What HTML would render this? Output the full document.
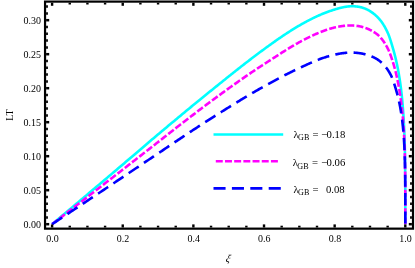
<!DOCTYPE html>
<html><head><meta charset="utf-8"><title>LT vs xi</title>
<style>
html,body{margin:0;padding:0;background:#fff;}
body{width:415px;height:268px;overflow:hidden;}
svg{display:block;will-change:transform;}
text{font-family:"Liberation Serif",serif;font-size:10px;fill:#000;}
.lg text{font-size:10.7px;}
.lg text.sub{font-size:8.1px;}
.xi{font-size:10.5px;font-style:italic;}
</style></head><body>
<svg width="415" height="268" viewBox="0 0 415 268">
<rect width="415" height="268" fill="#fff"/>
<g fill="none" stroke-linecap="butt" stroke-linejoin="round">
<path d="M52.10,224.20 L53.87,222.72 L55.63,221.24 L57.38,219.77 L59.13,218.30 L60.87,216.83 L62.61,215.37 L64.34,213.92 L66.06,212.47 L67.78,211.02 L69.50,209.58 L71.20,208.14 L72.90,206.71 L74.60,205.28 L76.29,203.85 L77.98,202.43 L79.65,201.02 L81.33,199.61 L82.99,198.20 L84.66,196.80 L86.31,195.40 L87.96,194.00 L89.61,192.61 L91.24,191.23 L92.88,189.85 L94.50,188.47 L96.13,187.10 L97.74,185.73 L99.35,184.37 L100.96,183.01 L102.55,181.65 L104.15,180.30 L105.74,178.96 L107.32,177.62 L108.89,176.28 L110.47,174.95 L112.03,173.62 L113.59,172.29 L115.15,170.97 L116.69,169.66 L118.24,168.35 L119.78,167.04 L121.31,165.74 L122.84,164.44 L124.36,163.14 L125.87,161.85 L127.38,160.57 L128.89,159.28 L130.39,158.00 L131.88,156.72 L133.37,155.45 L134.85,154.18 L136.33,152.92 L137.80,151.66 L139.27,150.40 L140.73,149.15 L142.19,147.91 L143.64,146.67 L145.09,145.43 L146.53,144.20 L147.96,142.98 L149.39,141.76 L150.81,140.55 L152.23,139.34 L153.65,138.14 L155.06,136.95 L156.46,135.77 L157.86,134.59 L159.25,133.42 L160.64,132.25 L162.02,131.09 L163.40,129.94 L164.77,128.79 L166.14,127.64 L167.50,126.50 L168.85,125.37 L170.20,124.24 L171.55,123.12 L172.89,122.00 L174.23,120.88 L175.56,119.77 L176.88,118.67 L178.20,117.57 L179.52,116.48 L180.83,115.39 L182.13,114.31 L183.43,113.23 L184.73,112.16 L186.02,111.09 L187.30,110.03 L188.58,108.97 L189.86,107.92 L191.13,106.88 L192.39,105.84 L193.65,104.80 L194.91,103.77 L196.16,102.75 L197.40,101.73 L198.64,100.71 L199.88,99.70 L201.11,98.70 L202.33,97.70 L203.55,96.71 L204.77,95.73 L205.98,94.74 L207.18,93.77 L208.38,92.80 L209.58,91.83 L210.77,90.87 L211.96,89.91 L213.14,88.96 L214.31,88.01 L215.49,87.06 L216.65,86.12 L217.82,85.18 L218.97,84.25 L220.13,83.32 L221.27,82.39 L222.42,81.47 L223.55,80.56 L224.69,79.65 L225.82,78.74 L226.94,77.84 L228.06,76.94 L229.17,76.05 L230.29,75.17 L231.39,74.28 L232.49,73.41 L233.59,72.54 L234.68,71.67 L235.77,70.81 L236.85,69.96 L237.92,69.11 L239.00,68.26 L240.07,67.42 L241.13,66.59 L242.19,65.76 L243.24,64.94 L244.29,64.12 L245.34,63.31 L246.38,62.51 L247.42,61.71 L248.45,60.92 L249.48,60.13 L250.50,59.35 L251.52,58.58 L252.53,57.81 L253.54,57.04 L254.55,56.28 L255.55,55.53 L256.54,54.78 L257.53,54.03 L258.52,53.29 L259.50,52.56 L260.48,51.83 L261.46,51.11 L262.43,50.39 L263.39,49.68 L264.35,48.97 L265.31,48.27 L266.26,47.57 L267.21,46.88 L268.15,46.20 L269.09,45.52 L270.03,44.85 L270.96,44.18 L271.89,43.52 L272.81,42.86 L273.73,42.21 L274.64,41.57 L275.55,40.93 L276.45,40.29 L277.35,39.67 L278.25,39.05 L279.14,38.43 L280.03,37.82 L280.92,37.22 L281.80,36.62 L282.67,36.03 L283.54,35.45 L284.41,34.87 L285.28,34.29 L286.14,33.73 L286.99,33.17 L287.84,32.61 L288.69,32.07 L289.53,31.53 L290.37,30.99 L291.21,30.46 L292.04,29.94 L292.86,29.42 L293.69,28.91 L294.50,28.41 L295.32,27.91 L296.13,27.42 L296.94,26.94 L297.74,26.46 L298.54,25.99 L299.33,25.53 L300.12,25.07 L300.91,24.62 L301.69,24.17 L302.47,23.73 L303.25,23.30 L304.02,22.87 L304.79,22.45 L305.55,22.03 L306.31,21.62 L307.06,21.22 L307.82,20.82 L308.56,20.43 L309.31,20.04 L310.05,19.66 L310.78,19.29 L311.52,18.92 L312.25,18.56 L312.97,18.20 L313.69,17.85 L314.41,17.50 L315.12,17.16 L315.83,16.83 L316.54,16.50 L317.24,16.18 L317.94,15.86 L318.64,15.55 L319.33,15.24 L320.02,14.94 L320.70,14.65 L321.38,14.36 L322.06,14.07 L322.73,13.79 L323.40,13.52 L324.07,13.25 L324.73,12.99 L325.39,12.73 L326.04,12.48 L326.69,12.23 L327.34,11.99 L327.99,11.75 L328.63,11.52 L329.26,11.30 L329.90,11.08 L330.53,10.86 L331.15,10.65 L331.78,10.44 L332.40,10.24 L333.01,10.04 L333.62,9.84 L334.23,9.65 L334.84,9.46 L335.44,9.27 L336.04,9.09 L336.64,8.91 L337.23,8.74 L337.82,8.57 L338.40,8.40 L338.98,8.24 L339.56,8.09 L340.14,7.94 L340.71,7.79 L341.28,7.66 L341.84,7.52 L342.40,7.40 L342.96,7.27 L343.52,7.16 L344.07,7.05 L344.62,6.95 L345.16,6.85 L345.70,6.77 L346.24,6.68 L346.78,6.61 L347.31,6.54 L347.84,6.48 L348.36,6.42 L348.89,6.38 L349.40,6.34 L349.92,6.30 L350.43,6.28 L350.94,6.26 L351.45,6.25 L351.95,6.25 L352.45,6.25 L352.95,6.26 L353.44,6.28 L353.93,6.30 L354.42,6.32 L354.91,6.35 L355.39,6.39 L355.87,6.43 L356.34,6.48 L356.81,6.53 L357.28,6.59 L357.75,6.65 L358.21,6.72 L358.67,6.80 L359.13,6.88 L359.58,6.97 L360.04,7.06 L360.48,7.16 L360.93,7.27 L361.37,7.38 L361.81,7.50 L362.25,7.62 L362.68,7.75 L363.11,7.89 L363.54,8.03 L363.96,8.18 L364.38,8.34 L364.80,8.50 L365.22,8.66 L365.63,8.84 L366.04,9.02 L366.45,9.21 L366.86,9.40 L367.26,9.60 L367.66,9.80 L368.05,10.01 L368.45,10.22 L368.84,10.43 L369.22,10.66 L369.61,10.88 L369.99,11.11 L370.37,11.35 L370.75,11.59 L371.12,11.83 L371.49,12.08 L371.86,12.34 L372.23,12.60 L372.59,12.86 L372.95,13.13 L373.31,13.40 L373.67,13.68 L374.02,13.96 L374.37,14.25 L374.72,14.54 L375.06,14.83 L375.40,15.13 L375.74,15.43 L376.08,15.74 L376.42,16.06 L376.75,16.37 L377.08,16.69 L377.40,17.02 L377.73,17.35 L378.05,17.69 L378.37,18.02 L378.69,18.37 L379.00,18.71 L379.31,19.07 L379.62,19.42 L379.93,19.78 L380.23,20.15 L380.54,20.51 L380.83,20.89 L381.13,21.27 L381.43,21.66 L381.72,22.06 L382.01,22.47 L382.30,22.88 L382.58,23.30 L382.86,23.73 L383.15,24.16 L383.42,24.61 L383.70,25.05 L383.97,25.51 L384.24,25.97 L384.51,26.43 L384.78,26.90 L385.04,27.38 L385.30,27.86 L385.56,28.35 L385.82,28.84 L386.08,29.33 L386.33,29.83 L386.58,30.34 L386.83,30.85 L387.08,31.36 L387.32,31.88 L387.56,32.40 L387.80,32.93 L388.04,33.48 L388.27,34.04 L388.51,34.62 L388.74,35.21 L388.97,35.82 L389.19,36.44 L389.42,37.06 L389.64,37.70 L389.86,38.34 L390.08,38.99 L390.30,39.64 L390.51,40.30 L390.72,40.96 L390.93,41.62 L391.14,42.29 L391.35,42.96 L391.55,43.63 L391.75,44.29 L391.95,44.96 L392.15,45.63 L392.35,46.29 L392.54,46.95 L392.74,47.61 L392.93,48.27 L393.11,48.93 L393.30,49.58 L393.49,50.23 L393.67,50.89 L393.85,51.54 L394.03,52.20 L394.21,52.85 L394.38,53.51 L394.55,54.16 L394.73,54.82 L394.89,55.48 L395.06,56.14 L395.23,56.80 L395.39,57.47 L395.56,58.13 L395.72,58.80 L395.87,59.47 L396.03,60.14 L396.19,60.81 L396.34,61.48 L396.49,62.16 L396.64,62.84 L396.79,63.52 L396.94,64.20 L397.08,64.88 L397.23,65.57 L397.37,66.26 L397.51,66.95 L397.65,67.65 L397.78,68.34 L397.92,69.04 L398.05,69.74 L398.18,70.44 L398.31,71.15 L398.44,71.86 L398.57,72.57 L398.69,73.28 L398.82,73.99 L398.94,74.71 L399.06,75.43 L399.18,76.15 L399.30,76.88 L399.41,77.60 L399.53,78.33 L399.64,79.06 L399.75,79.79 L399.86,80.53 L399.97,81.26 L400.08,82.00 L400.19,82.74 L400.29,83.49 L400.39,84.23 L400.49,84.98 L400.59,85.73 L400.69,86.48 L400.79,87.24 L400.89,87.99 L400.98,88.75 L401.07,89.51 L401.17,90.28 L401.26,91.04 L401.35,91.81 L401.43,92.58 L401.52,93.35 L401.61,94.13 L401.69,94.90 L401.77,95.68 L401.85,96.46 L401.93,97.24 L402.01,98.03 L402.09,98.81 L402.17,99.60 L402.24,100.39 L402.32,101.19 L402.39,101.98 L402.46,102.78 L402.53,103.57 L402.60,104.37 L402.67,105.17 L402.73,105.98 L402.80,106.78 L402.87,107.59 L402.93,108.40 L402.99,109.21 L403.05,110.02 L403.11,110.84 L403.17,111.66 L403.23,112.48 L403.29,113.31 L403.34,114.13 L403.40,114.96 L403.45,115.79 L403.50,116.62 L403.56,117.45 L403.61,118.29 L403.66,119.12 L403.71,119.96 L403.75,120.80 L403.80,121.64 L403.85,122.48 L403.89,123.32 L403.94,124.17 L403.98,125.01 L404.02,125.86 L404.06,126.70 L404.10,127.55 L404.14,128.40 L404.18,129.25 L404.22,130.10 L404.25,130.95 L404.29,131.81 L404.33,132.66 L404.36,133.52 L404.39,134.37 L404.43,135.23 L404.46,136.09 L404.49,136.95 L404.52,137.82 L404.55,138.68 L404.58,139.55 L404.61,140.41 L404.63,141.28 L404.66,142.15 L404.69,143.02 L404.71,143.90 L404.74,144.77 L404.76,145.65 L404.78,146.53 L404.81,147.41 L404.83,148.29 L404.85,149.18 L404.87,150.07 L404.89,150.96 L404.91,151.85 L404.93,152.75 L404.95,153.64 L404.96,154.54 L404.98,155.45 L405.00,156.35 L405.01,157.26 L405.03,158.18 L405.04,159.09 L405.06,160.01 L405.07,160.93 L405.08,161.86 L405.09,162.79 L405.11,163.72 L405.12,164.66 L405.13,165.60 L405.14,166.55 L405.15,167.50 L405.16,168.46 L405.17,169.42 L405.18,170.38 L405.19,171.35 L405.19,172.33 L405.20,173.31 L405.21,174.30 L405.22,175.29 L405.22,176.29 L405.23,177.29 L405.24,178.31 L405.24,179.33 L405.25,180.35 L405.25,181.39 L405.26,182.43 L405.26,183.48 L405.26,184.54 L405.27,185.61 L405.27,186.69 L405.27,187.78 L405.28,188.88 L405.28,189.99 L405.28,191.11 L405.28,192.25 L405.29,193.40 L405.29,194.56 L405.29,195.74 L405.29,196.93 L405.29,198.15 L405.29,199.38 L405.30,200.63 L405.30,201.90 L405.30,203.20 L405.30,204.53 L405.30,205.89 L405.30,207.28 L405.30,208.71 L405.30,210.19 L405.30,211.72 L405.30,213.31 L405.30,214.99 L405.30,216.78 L405.30,218.72 L405.30,220.94 L405.30,224.20" stroke="#00ffff" stroke-width="2.6"/>
<path d="M52.10,224.20 L53.87,222.84 L55.63,221.49 L57.38,220.14 L59.13,218.80 L60.87,217.46 L62.61,216.12 L64.34,214.79 L66.06,213.46 L67.78,212.14 L69.50,210.82 L71.20,209.50 L72.90,208.19 L74.60,206.88 L76.29,205.58 L77.98,204.28 L79.65,202.99 L81.33,201.70 L82.99,200.41 L84.66,199.13 L86.31,197.85 L87.96,196.57 L89.61,195.30 L91.24,194.03 L92.88,192.77 L94.50,191.51 L96.13,190.26 L97.74,189.01 L99.35,187.76 L100.96,186.52 L102.55,185.28 L104.15,184.04 L105.74,182.81 L107.32,181.58 L108.89,180.36 L110.47,179.14 L112.03,177.93 L113.59,176.72 L115.15,175.51 L116.69,174.31 L118.24,173.11 L119.78,171.91 L121.31,170.72 L122.84,169.54 L124.36,168.35 L125.87,167.18 L127.38,166.00 L128.89,164.83 L130.39,163.67 L131.88,162.50 L133.37,161.34 L134.85,160.19 L136.33,159.04 L137.80,157.89 L139.27,156.75 L140.73,155.61 L142.19,154.47 L143.64,153.34 L145.09,152.21 L146.53,151.09 L147.96,149.96 L149.39,148.85 L150.81,147.73 L152.23,146.62 L153.65,145.52 L155.06,144.41 L156.46,143.32 L157.86,142.22 L159.25,141.13 L160.64,140.05 L162.02,138.96 L163.40,137.89 L164.77,136.81 L166.14,135.74 L167.50,134.68 L168.85,133.62 L170.20,132.56 L171.55,131.51 L172.89,130.46 L174.23,129.42 L175.56,128.38 L176.88,127.35 L178.20,126.32 L179.52,125.30 L180.83,124.28 L182.13,123.27 L183.43,122.26 L184.73,121.26 L186.02,120.26 L187.30,119.26 L188.58,118.28 L189.86,117.29 L191.13,116.32 L192.39,115.35 L193.65,114.38 L194.91,113.42 L196.16,112.46 L197.40,111.51 L198.64,110.57 L199.88,109.63 L201.11,108.70 L202.33,107.77 L203.55,106.85 L204.77,105.94 L205.98,105.03 L207.18,104.13 L208.38,103.23 L209.58,102.34 L210.77,101.46 L211.96,100.58 L213.14,99.71 L214.31,98.84 L215.49,97.98 L216.65,97.12 L217.82,96.27 L218.97,95.42 L220.13,94.58 L221.27,93.74 L222.42,92.91 L223.55,92.08 L224.69,91.26 L225.82,90.45 L226.94,89.63 L228.06,88.83 L229.17,88.03 L230.29,87.23 L231.39,86.44 L232.49,85.66 L233.59,84.88 L234.68,84.11 L235.77,83.34 L236.85,82.57 L237.92,81.82 L239.00,81.06 L240.07,80.31 L241.13,79.57 L242.19,78.84 L243.24,78.10 L244.29,77.38 L245.34,76.66 L246.38,75.94 L247.42,75.23 L248.45,74.53 L249.48,73.83 L250.50,73.13 L251.52,72.45 L252.53,71.76 L253.54,71.08 L254.55,70.41 L255.55,69.75 L256.54,69.08 L257.53,68.43 L258.52,67.78 L259.50,67.13 L260.48,66.49 L261.46,65.86 L262.43,65.23 L263.39,64.61 L264.35,63.99 L265.31,63.37 L266.26,62.76 L267.21,62.14 L268.15,61.53 L269.09,60.92 L270.03,60.32 L270.96,59.71 L271.89,59.11 L272.81,58.51 L273.73,57.92 L274.64,57.32 L275.55,56.73 L276.45,56.15 L277.35,55.57 L278.25,54.99 L279.14,54.41 L280.03,53.84 L280.92,53.28 L281.80,52.72 L282.67,52.16 L283.54,51.61 L284.41,51.06 L285.28,50.52 L286.14,49.98 L286.99,49.45 L287.84,48.92 L288.69,48.40 L289.53,47.89 L290.37,47.38 L291.21,46.88 L292.04,46.38 L292.86,45.89 L293.69,45.41 L294.50,44.93 L295.32,44.46 L296.13,44.00 L296.94,43.54 L297.74,43.09 L298.54,42.65 L299.33,42.21 L300.12,41.78 L300.91,41.36 L301.69,40.94 L302.47,40.53 L303.25,40.12 L304.02,39.72 L304.79,39.33 L305.55,38.94 L306.31,38.55 L307.06,38.17 L307.82,37.80 L308.56,37.43 L309.31,37.06 L310.05,36.71 L310.78,36.36 L311.52,36.01 L312.25,35.67 L312.97,35.33 L313.69,35.00 L314.41,34.68 L315.12,34.36 L315.83,34.05 L316.54,33.74 L317.24,33.44 L317.94,33.15 L318.64,32.86 L319.33,32.57 L320.02,32.29 L320.70,32.02 L321.38,31.75 L322.06,31.49 L322.73,31.24 L323.40,30.98 L324.07,30.74 L324.73,30.50 L325.39,30.27 L326.04,30.04 L326.69,29.82 L327.34,29.60 L327.99,29.39 L328.63,29.19 L329.26,28.99 L329.90,28.80 L330.53,28.61 L331.15,28.43 L331.78,28.25 L332.40,28.08 L333.01,27.92 L333.62,27.76 L334.23,27.60 L334.84,27.45 L335.44,27.31 L336.04,27.18 L336.64,27.05 L337.23,26.92 L337.82,26.80 L338.40,26.69 L338.98,26.58 L339.56,26.48 L340.14,26.38 L340.71,26.29 L341.28,26.20 L341.84,26.12 L342.40,26.04 L342.96,25.97 L343.52,25.90 L344.07,25.84 L344.62,25.79 L345.16,25.74 L345.70,25.69 L346.24,25.65 L346.78,25.61 L347.31,25.58 L347.84,25.55 L348.36,25.53 L348.89,25.52 L349.40,25.50 L349.92,25.50 L350.43,25.49 L350.94,25.49 L351.45,25.50 L351.95,25.51 L352.45,25.52 L352.95,25.54 L353.44,25.57 L353.93,25.60 L354.42,25.63 L354.91,25.67 L355.39,25.72 L355.87,25.76 L356.34,25.82 L356.81,25.88 L357.28,25.94 L357.75,26.01 L358.21,26.08 L358.67,26.15 L359.13,26.24 L359.58,26.32 L360.04,26.41 L360.48,26.51 L360.93,26.60 L361.37,26.71 L361.81,26.81 L362.25,26.93 L362.68,27.04 L363.11,27.16 L363.54,27.29 L363.96,27.42 L364.38,27.55 L364.80,27.69 L365.22,27.83 L365.63,27.98 L366.04,28.13 L366.45,28.28 L366.86,28.44 L367.26,28.60 L367.66,28.77 L368.05,28.94 L368.45,29.11 L368.84,29.29 L369.22,29.47 L369.61,29.66 L369.99,29.85 L370.37,30.04 L370.75,30.24 L371.12,30.43 L371.49,30.63 L371.86,30.83 L372.23,31.03 L372.59,31.24 L372.95,31.44 L373.31,31.65 L373.67,31.87 L374.02,32.08 L374.37,32.31 L374.72,32.53 L375.06,32.76 L375.40,33.00 L375.74,33.24 L376.08,33.48 L376.42,33.74 L376.75,33.99 L377.08,34.25 L377.40,34.52 L377.73,34.80 L378.05,35.08 L378.37,35.36 L378.69,35.65 L379.00,35.95 L379.31,36.26 L379.62,36.57 L379.93,36.89 L380.23,37.21 L380.54,37.54 L380.83,37.88 L381.13,38.23 L381.43,38.58 L381.72,38.94 L382.01,39.30 L382.30,39.67 L382.58,40.05 L382.86,40.43 L383.15,40.82 L383.42,41.21 L383.70,41.61 L383.97,42.01 L384.24,42.42 L384.51,42.83 L384.78,43.24 L385.04,43.67 L385.30,44.09 L385.56,44.52 L385.82,44.96 L386.08,45.40 L386.33,45.84 L386.58,46.28 L386.83,46.74 L387.08,47.19 L387.32,47.65 L387.56,48.11 L387.80,48.58 L388.04,49.06 L388.27,49.55 L388.51,50.06 L388.74,50.57 L388.97,51.10 L389.19,51.64 L389.42,52.18 L389.64,52.73 L389.86,53.29 L390.08,53.86 L390.30,54.43 L390.51,55.01 L390.72,55.59 L390.93,56.17 L391.14,56.76 L391.35,57.35 L391.55,57.94 L391.75,58.54 L391.95,59.14 L392.15,59.74 L392.35,60.34 L392.54,60.94 L392.74,61.54 L392.93,62.14 L393.11,62.74 L393.30,63.35 L393.49,63.96 L393.67,64.57 L393.85,65.19 L394.03,65.81 L394.21,66.43 L394.38,67.05 L394.55,67.68 L394.73,68.31 L394.89,68.94 L395.06,69.58 L395.23,70.22 L395.39,70.86 L395.56,71.50 L395.72,72.15 L395.87,72.79 L396.03,73.44 L396.19,74.09 L396.34,74.75 L396.49,75.40 L396.64,76.06 L396.79,76.72 L396.94,77.38 L397.08,78.04 L397.23,78.71 L397.37,79.37 L397.51,80.04 L397.65,80.71 L397.78,81.38 L397.92,82.06 L398.05,82.74 L398.18,83.42 L398.31,84.11 L398.44,84.79 L398.57,85.48 L398.69,86.17 L398.82,86.86 L398.94,87.56 L399.06,88.25 L399.18,88.95 L399.30,89.64 L399.41,90.34 L399.53,91.04 L399.64,91.74 L399.75,92.44 L399.86,93.14 L399.97,93.84 L400.08,94.54 L400.19,95.24 L400.29,95.94 L400.39,96.64 L400.49,97.34 L400.59,98.05 L400.69,98.75 L400.79,99.45 L400.89,100.15 L400.98,100.86 L401.07,101.56 L401.17,102.27 L401.26,102.97 L401.35,103.68 L401.43,104.38 L401.52,105.09 L401.61,105.80 L401.69,106.51 L401.77,107.22 L401.85,107.93 L401.93,108.64 L402.01,109.35 L402.09,110.06 L402.17,110.77 L402.24,111.49 L402.32,112.20 L402.39,112.92 L402.46,113.63 L402.53,114.35 L402.60,115.07 L402.67,115.79 L402.73,116.51 L402.80,117.23 L402.87,117.95 L402.93,118.67 L402.99,119.40 L403.05,120.12 L403.11,120.85 L403.17,121.57 L403.23,122.30 L403.29,123.03 L403.34,123.76 L403.40,124.49 L403.45,125.22 L403.50,125.95 L403.56,126.69 L403.61,127.42 L403.66,128.16 L403.71,128.90 L403.75,129.64 L403.80,130.38 L403.85,131.12 L403.89,131.86 L403.94,132.61 L403.98,133.35 L404.02,134.10 L404.06,134.85 L404.10,135.60 L404.14,136.35 L404.18,137.11 L404.22,137.86 L404.25,138.62 L404.29,139.38 L404.33,140.14 L404.36,140.90 L404.39,141.66 L404.43,142.43 L404.46,143.20 L404.49,143.97 L404.52,144.74 L404.55,145.52 L404.58,146.29 L404.61,147.07 L404.63,147.85 L404.66,148.63 L404.69,149.42 L404.71,150.21 L404.74,151.00 L404.76,151.79 L404.78,152.58 L404.81,153.38 L404.83,154.18 L404.85,154.98 L404.87,155.79 L404.89,156.60 L404.91,157.41 L404.93,158.22 L404.95,159.04 L404.96,159.86 L404.98,160.69 L405.00,161.51 L405.01,162.34 L405.03,163.18 L405.04,164.02 L405.06,164.86 L405.07,165.70 L405.08,166.55 L405.09,167.40 L405.11,168.26 L405.12,169.12 L405.13,169.99 L405.14,170.86 L405.15,171.73 L405.16,172.61 L405.17,173.49 L405.18,174.38 L405.19,175.28 L405.19,176.18 L405.20,177.08 L405.21,177.99 L405.22,178.91 L405.22,179.83 L405.23,180.76 L405.24,181.69 L405.24,182.64 L405.25,183.58 L405.25,184.54 L405.26,185.50 L405.26,186.48 L405.26,187.46 L405.27,188.45 L405.27,189.44 L405.27,190.45 L405.28,191.47 L405.28,192.50 L405.28,193.54 L405.28,194.59 L405.29,195.65 L405.29,196.73 L405.29,197.82 L405.29,198.93 L405.29,200.05 L405.29,201.20 L405.30,202.36 L405.30,203.54 L405.30,204.74 L405.30,205.97 L405.30,207.23 L405.30,208.52 L405.30,209.84 L405.30,211.21 L405.30,212.63 L405.30,214.11 L405.30,215.66 L405.30,217.32 L405.30,219.12 L405.30,221.18 L405.30,224.20" stroke="#ff00ff" stroke-width="2.6" stroke-dasharray="6.96 2.23"/>
<path d="M52.10,224.20 L53.87,223.03 L55.63,221.86 L57.38,220.70 L59.13,219.54 L60.87,218.39 L62.61,217.24 L64.34,216.09 L66.06,214.94 L67.78,213.80 L69.50,212.66 L71.20,211.53 L72.90,210.40 L74.60,209.27 L76.29,208.15 L77.98,207.03 L79.65,205.91 L81.33,204.80 L82.99,203.69 L84.66,202.59 L86.31,201.48 L87.96,200.38 L89.61,199.29 L91.24,198.20 L92.88,197.11 L94.50,196.02 L96.13,194.94 L97.74,193.86 L99.35,192.79 L100.96,191.72 L102.55,190.65 L104.15,189.59 L105.74,188.52 L107.32,187.47 L108.89,186.41 L110.47,185.36 L112.03,184.32 L113.59,183.27 L115.15,182.23 L116.69,181.20 L118.24,180.16 L119.78,179.13 L121.31,178.11 L122.84,177.08 L124.36,176.07 L125.87,175.05 L127.38,174.04 L128.89,173.03 L130.39,172.02 L131.88,171.02 L133.37,170.03 L134.85,169.03 L136.33,168.04 L137.80,167.05 L139.27,166.07 L140.73,165.09 L142.19,164.11 L143.64,163.14 L145.09,162.17 L146.53,161.20 L147.96,160.24 L149.39,159.28 L150.81,158.33 L152.23,157.37 L153.65,156.43 L155.06,155.48 L156.46,154.54 L157.86,153.60 L159.25,152.66 L160.64,151.72 L162.02,150.80 L163.40,149.87 L164.77,148.95 L166.14,148.03 L167.50,147.11 L168.85,146.20 L170.20,145.29 L171.55,144.39 L172.89,143.49 L174.23,142.59 L175.56,141.70 L176.88,140.81 L178.20,139.93 L179.52,139.05 L180.83,138.18 L182.13,137.31 L183.43,136.45 L184.73,135.59 L186.02,134.73 L187.30,133.88 L188.58,133.04 L189.86,132.20 L191.13,131.36 L192.39,130.53 L193.65,129.71 L194.91,128.89 L196.16,128.07 L197.40,127.26 L198.64,126.46 L199.88,125.65 L201.11,124.86 L202.33,124.06 L203.55,123.28 L204.77,122.49 L205.98,121.71 L207.18,120.94 L208.38,120.17 L209.58,119.40 L210.77,118.64 L211.96,117.88 L213.14,117.13 L214.31,116.38 L215.49,115.64 L216.65,114.90 L217.82,114.16 L218.97,113.43 L220.13,112.70 L221.27,111.98 L222.42,111.26 L223.55,110.55 L224.69,109.84 L225.82,109.13 L226.94,108.43 L228.06,107.74 L229.17,107.04 L230.29,106.36 L231.39,105.67 L232.49,104.99 L233.59,104.32 L234.68,103.65 L235.77,102.99 L236.85,102.33 L237.92,101.67 L239.00,101.02 L240.07,100.37 L241.13,99.73 L242.19,99.09 L243.24,98.46 L244.29,97.83 L245.34,97.21 L246.38,96.59 L247.42,95.97 L248.45,95.36 L249.48,94.76 L250.50,94.15 L251.52,93.56 L252.53,92.96 L253.54,92.38 L254.55,91.79 L255.55,91.21 L256.54,90.64 L257.53,90.07 L258.52,89.50 L259.50,88.94 L260.48,88.38 L261.46,87.83 L262.43,87.28 L263.39,86.74 L264.35,86.20 L265.31,85.67 L266.26,85.14 L267.21,84.61 L268.15,84.09 L269.09,83.57 L270.03,83.05 L270.96,82.54 L271.89,82.04 L272.81,81.53 L273.73,81.04 L274.64,80.54 L275.55,80.05 L276.45,79.57 L277.35,79.09 L278.25,78.61 L279.14,78.14 L280.03,77.67 L280.92,77.20 L281.80,76.74 L282.67,76.29 L283.54,75.84 L284.41,75.39 L285.28,74.95 L286.14,74.51 L286.99,74.07 L287.84,73.64 L288.69,73.22 L289.53,72.80 L290.37,72.38 L291.21,71.97 L292.04,71.56 L292.86,71.15 L293.69,70.75 L294.50,70.36 L295.32,69.97 L296.13,69.58 L296.94,69.20 L297.74,68.82 L298.54,68.45 L299.33,68.08 L300.12,67.71 L300.91,67.35 L301.69,66.99 L302.47,66.63 L303.25,66.27 L304.02,65.91 L304.79,65.56 L305.55,65.21 L306.31,64.86 L307.06,64.52 L307.82,64.18 L308.56,63.84 L309.31,63.51 L310.05,63.18 L310.78,62.86 L311.52,62.54 L312.25,62.22 L312.97,61.91 L313.69,61.60 L314.41,61.30 L315.12,61.00 L315.83,60.71 L316.54,60.42 L317.24,60.14 L317.94,59.86 L318.64,59.59 L319.33,59.33 L320.02,59.07 L320.70,58.81 L321.38,58.56 L322.06,58.32 L322.73,58.09 L323.40,57.86 L324.07,57.63 L324.73,57.42 L325.39,57.20 L326.04,57.00 L326.69,56.79 L327.34,56.60 L327.99,56.40 L328.63,56.22 L329.26,56.04 L329.90,55.86 L330.53,55.69 L331.15,55.52 L331.78,55.36 L332.40,55.20 L333.01,55.05 L333.62,54.90 L334.23,54.76 L334.84,54.62 L335.44,54.49 L336.04,54.36 L336.64,54.23 L337.23,54.11 L337.82,54.00 L338.40,53.89 L338.98,53.78 L339.56,53.68 L340.14,53.58 L340.71,53.49 L341.28,53.40 L341.84,53.32 L342.40,53.24 L342.96,53.16 L343.52,53.09 L344.07,53.02 L344.62,52.96 L345.16,52.90 L345.70,52.85 L346.24,52.80 L346.78,52.76 L347.31,52.72 L347.84,52.69 L348.36,52.66 L348.89,52.63 L349.40,52.61 L349.92,52.60 L350.43,52.59 L350.94,52.58 L351.45,52.58 L351.95,52.58 L352.45,52.59 L352.95,52.60 L353.44,52.61 L353.93,52.63 L354.42,52.66 L354.91,52.68 L355.39,52.72 L355.87,52.75 L356.34,52.79 L356.81,52.83 L357.28,52.88 L357.75,52.93 L358.21,52.99 L358.67,53.04 L359.13,53.11 L359.58,53.17 L360.04,53.24 L360.48,53.31 L360.93,53.39 L361.37,53.47 L361.81,53.55 L362.25,53.64 L362.68,53.73 L363.11,53.82 L363.54,53.92 L363.96,54.02 L364.38,54.12 L364.80,54.23 L365.22,54.34 L365.63,54.46 L366.04,54.57 L366.45,54.69 L366.86,54.81 L367.26,54.94 L367.66,55.06 L368.05,55.19 L368.45,55.31 L368.84,55.44 L369.22,55.57 L369.61,55.70 L369.99,55.84 L370.37,55.98 L370.75,56.12 L371.12,56.26 L371.49,56.40 L371.86,56.55 L372.23,56.70 L372.59,56.86 L372.95,57.01 L373.31,57.18 L373.67,57.34 L374.02,57.51 L374.37,57.68 L374.72,57.86 L375.06,58.04 L375.40,58.22 L375.74,58.41 L376.08,58.60 L376.42,58.79 L376.75,59.00 L377.08,59.20 L377.40,59.41 L377.73,59.62 L378.05,59.84 L378.37,60.06 L378.69,60.29 L379.00,60.52 L379.31,60.76 L379.62,61.00 L379.93,61.24 L380.23,61.49 L380.54,61.75 L380.83,62.01 L381.13,62.27 L381.43,62.53 L381.72,62.80 L382.01,63.07 L382.30,63.34 L382.58,63.62 L382.86,63.89 L383.15,64.17 L383.42,64.46 L383.70,64.75 L383.97,65.04 L384.24,65.33 L384.51,65.63 L384.78,65.94 L385.04,66.24 L385.30,66.55 L385.56,66.87 L385.82,67.19 L386.08,67.51 L386.33,67.84 L386.58,68.17 L386.83,68.50 L387.08,68.84 L387.32,69.18 L387.56,69.53 L387.80,69.89 L388.04,70.24 L388.27,70.60 L388.51,70.97 L388.74,71.34 L388.97,71.71 L389.19,72.09 L389.42,72.47 L389.64,72.86 L389.86,73.25 L390.08,73.65 L390.30,74.05 L390.51,74.45 L390.72,74.86 L390.93,75.28 L391.14,75.69 L391.35,76.12 L391.55,76.56 L391.75,77.02 L391.95,77.48 L392.15,77.96 L392.35,78.45 L392.54,78.95 L392.74,79.46 L392.93,79.98 L393.11,80.50 L393.30,81.03 L393.49,81.56 L393.67,82.10 L393.85,82.64 L394.03,83.18 L394.21,83.72 L394.38,84.27 L394.55,84.82 L394.73,85.37 L394.89,85.91 L395.06,86.46 L395.23,87.01 L395.39,87.55 L395.56,88.10 L395.72,88.64 L395.87,89.18 L396.03,89.72 L396.19,90.25 L396.34,90.78 L396.49,91.31 L396.64,91.84 L396.79,92.37 L396.94,92.91 L397.08,93.44 L397.23,93.97 L397.37,94.51 L397.51,95.04 L397.65,95.58 L397.78,96.12 L397.92,96.65 L398.05,97.20 L398.18,97.74 L398.31,98.28 L398.44,98.83 L398.57,99.37 L398.69,99.92 L398.82,100.47 L398.94,101.02 L399.06,101.57 L399.18,102.13 L399.30,102.68 L399.41,103.24 L399.53,103.80 L399.64,104.36 L399.75,104.92 L399.86,105.49 L399.97,106.05 L400.08,106.62 L400.19,107.19 L400.29,107.76 L400.39,108.33 L400.49,108.91 L400.59,109.49 L400.69,110.07 L400.79,110.65 L400.89,111.23 L400.98,111.81 L401.07,112.40 L401.17,112.99 L401.26,113.58 L401.35,114.17 L401.43,114.76 L401.52,115.36 L401.61,115.95 L401.69,116.55 L401.77,117.15 L401.85,117.76 L401.93,118.36 L402.01,118.97 L402.09,119.57 L402.17,120.18 L402.24,120.80 L402.32,121.41 L402.39,122.02 L402.46,122.64 L402.53,123.26 L402.60,123.88 L402.67,124.50 L402.73,125.13 L402.80,125.75 L402.87,126.38 L402.93,127.01 L402.99,127.64 L403.05,128.28 L403.11,128.91 L403.17,129.55 L403.23,130.19 L403.29,130.83 L403.34,131.47 L403.40,132.12 L403.45,132.77 L403.50,133.42 L403.56,134.07 L403.61,134.72 L403.66,135.37 L403.71,136.03 L403.75,136.69 L403.80,137.35 L403.85,138.02 L403.89,138.68 L403.94,139.35 L403.98,140.02 L404.02,140.69 L404.06,141.36 L404.10,142.04 L404.14,142.72 L404.18,143.40 L404.22,144.08 L404.25,144.77 L404.29,145.45 L404.33,146.14 L404.36,146.83 L404.39,147.53 L404.43,148.22 L404.46,148.92 L404.49,149.63 L404.52,150.33 L404.55,151.04 L404.58,151.74 L404.61,152.46 L404.63,153.17 L404.66,153.89 L404.69,154.61 L404.71,155.33 L404.74,156.05 L404.76,156.78 L404.78,157.51 L404.81,158.25 L404.83,158.98 L404.85,159.72 L404.87,160.46 L404.89,161.21 L404.91,161.96 L404.93,162.71 L404.95,163.46 L404.96,164.22 L404.98,164.98 L405.00,165.75 L405.01,166.52 L405.03,167.29 L405.04,168.07 L405.06,168.85 L405.07,169.63 L405.08,170.42 L405.09,171.21 L405.11,172.00 L405.12,172.80 L405.13,173.61 L405.14,174.42 L405.15,175.23 L405.16,176.05 L405.17,176.87 L405.18,177.70 L405.19,178.53 L405.19,179.36 L405.20,180.21 L405.21,181.06 L405.22,181.91 L405.22,182.77 L405.23,183.63 L405.24,184.51 L405.24,185.38 L405.25,186.27 L405.25,187.16 L405.26,188.06 L405.26,188.97 L405.26,189.88 L405.27,190.81 L405.27,191.74 L405.27,192.68 L405.28,193.63 L405.28,194.59 L405.28,195.56 L405.28,196.54 L405.29,197.54 L405.29,198.54 L405.29,199.56 L405.29,200.59 L405.29,201.64 L405.29,202.71 L405.30,203.79 L405.30,204.90 L405.30,206.02 L405.30,207.17 L405.30,208.34 L405.30,209.55 L405.30,210.79 L405.30,212.07 L405.30,213.39 L405.30,214.77 L405.30,216.23 L405.30,217.77 L405.30,219.46 L405.30,221.38 L405.30,224.20" stroke="#0000ff" stroke-width="2.6" stroke-dasharray="12.07 6.33"/>
</g>
<rect x="45.05" y="1.6" width="367.95" height="227.05" fill="none" stroke="#000" stroke-width="2.2"/>
<g stroke="#000" stroke-width="2.4">
<line x1="52.10" y1="227.5" x2="52.10" y2="224.4"/>
<line x1="52.10" y1="2.7" x2="52.10" y2="5.800000000000001"/>
<line x1="69.76" y1="227.5" x2="69.76" y2="225.7"/>
<line x1="69.76" y1="2.7" x2="69.76" y2="4.5"/>
<line x1="87.42" y1="227.5" x2="87.42" y2="225.7"/>
<line x1="87.42" y1="2.7" x2="87.42" y2="4.5"/>
<line x1="105.08" y1="227.5" x2="105.08" y2="225.7"/>
<line x1="105.08" y1="2.7" x2="105.08" y2="4.5"/>
<line x1="122.74" y1="227.5" x2="122.74" y2="224.4"/>
<line x1="122.74" y1="2.7" x2="122.74" y2="5.800000000000001"/>
<line x1="140.40" y1="227.5" x2="140.40" y2="225.7"/>
<line x1="140.40" y1="2.7" x2="140.40" y2="4.5"/>
<line x1="158.06" y1="227.5" x2="158.06" y2="225.7"/>
<line x1="158.06" y1="2.7" x2="158.06" y2="4.5"/>
<line x1="175.72" y1="227.5" x2="175.72" y2="225.7"/>
<line x1="175.72" y1="2.7" x2="175.72" y2="4.5"/>
<line x1="193.38" y1="227.5" x2="193.38" y2="224.4"/>
<line x1="193.38" y1="2.7" x2="193.38" y2="5.800000000000001"/>
<line x1="211.04" y1="227.5" x2="211.04" y2="225.7"/>
<line x1="211.04" y1="2.7" x2="211.04" y2="4.5"/>
<line x1="228.70" y1="227.5" x2="228.70" y2="225.7"/>
<line x1="228.70" y1="2.7" x2="228.70" y2="4.5"/>
<line x1="246.36" y1="227.5" x2="246.36" y2="225.7"/>
<line x1="246.36" y1="2.7" x2="246.36" y2="4.5"/>
<line x1="264.02" y1="227.5" x2="264.02" y2="224.4"/>
<line x1="264.02" y1="2.7" x2="264.02" y2="5.800000000000001"/>
<line x1="281.68" y1="227.5" x2="281.68" y2="225.7"/>
<line x1="281.68" y1="2.7" x2="281.68" y2="4.5"/>
<line x1="299.34" y1="227.5" x2="299.34" y2="225.7"/>
<line x1="299.34" y1="2.7" x2="299.34" y2="4.5"/>
<line x1="317.00" y1="227.5" x2="317.00" y2="225.7"/>
<line x1="317.00" y1="2.7" x2="317.00" y2="4.5"/>
<line x1="334.66" y1="227.5" x2="334.66" y2="224.4"/>
<line x1="334.66" y1="2.7" x2="334.66" y2="5.800000000000001"/>
<line x1="352.32" y1="227.5" x2="352.32" y2="225.7"/>
<line x1="352.32" y1="2.7" x2="352.32" y2="4.5"/>
<line x1="369.98" y1="227.5" x2="369.98" y2="225.7"/>
<line x1="369.98" y1="2.7" x2="369.98" y2="4.5"/>
<line x1="387.64" y1="227.5" x2="387.64" y2="225.7"/>
<line x1="387.64" y1="2.7" x2="387.64" y2="4.5"/>
<line x1="405.30" y1="227.5" x2="405.30" y2="224.4"/>
<line x1="405.30" y1="2.7" x2="405.30" y2="5.800000000000001"/>
<line x1="46.1" y1="224.20" x2="49.2" y2="224.20" stroke-width="2.5"/>
<line x1="411.9" y1="224.20" x2="408.79999999999995" y2="224.20" stroke-width="2.5"/>
<line x1="46.1" y1="217.40" x2="47.9" y2="217.40" stroke-width="2.5"/>
<line x1="411.9" y1="217.40" x2="410.09999999999997" y2="217.40" stroke-width="2.5"/>
<line x1="46.1" y1="210.60" x2="47.9" y2="210.60" stroke-width="2.5"/>
<line x1="411.9" y1="210.60" x2="410.09999999999997" y2="210.60" stroke-width="2.5"/>
<line x1="46.1" y1="203.80" x2="47.9" y2="203.80" stroke-width="2.5"/>
<line x1="411.9" y1="203.80" x2="410.09999999999997" y2="203.80" stroke-width="2.5"/>
<line x1="46.1" y1="197.00" x2="47.9" y2="197.00" stroke-width="2.5"/>
<line x1="411.9" y1="197.00" x2="410.09999999999997" y2="197.00" stroke-width="2.5"/>
<line x1="46.1" y1="190.20" x2="49.2" y2="190.20" stroke-width="2.5"/>
<line x1="411.9" y1="190.20" x2="408.79999999999995" y2="190.20" stroke-width="2.5"/>
<line x1="46.1" y1="183.40" x2="47.9" y2="183.40" stroke-width="2.5"/>
<line x1="411.9" y1="183.40" x2="410.09999999999997" y2="183.40" stroke-width="2.5"/>
<line x1="46.1" y1="176.60" x2="47.9" y2="176.60" stroke-width="2.5"/>
<line x1="411.9" y1="176.60" x2="410.09999999999997" y2="176.60" stroke-width="2.5"/>
<line x1="46.1" y1="169.80" x2="47.9" y2="169.80" stroke-width="2.5"/>
<line x1="411.9" y1="169.80" x2="410.09999999999997" y2="169.80" stroke-width="2.5"/>
<line x1="46.1" y1="163.00" x2="47.9" y2="163.00" stroke-width="2.5"/>
<line x1="411.9" y1="163.00" x2="410.09999999999997" y2="163.00" stroke-width="2.5"/>
<line x1="46.1" y1="156.20" x2="49.2" y2="156.20" stroke-width="2.5"/>
<line x1="411.9" y1="156.20" x2="408.79999999999995" y2="156.20" stroke-width="2.5"/>
<line x1="46.1" y1="149.40" x2="47.9" y2="149.40" stroke-width="2.5"/>
<line x1="411.9" y1="149.40" x2="410.09999999999997" y2="149.40" stroke-width="2.5"/>
<line x1="46.1" y1="142.60" x2="47.9" y2="142.60" stroke-width="2.5"/>
<line x1="411.9" y1="142.60" x2="410.09999999999997" y2="142.60" stroke-width="2.5"/>
<line x1="46.1" y1="135.80" x2="47.9" y2="135.80" stroke-width="2.5"/>
<line x1="411.9" y1="135.80" x2="410.09999999999997" y2="135.80" stroke-width="2.5"/>
<line x1="46.1" y1="129.00" x2="47.9" y2="129.00" stroke-width="2.5"/>
<line x1="411.9" y1="129.00" x2="410.09999999999997" y2="129.00" stroke-width="2.5"/>
<line x1="46.1" y1="122.20" x2="49.2" y2="122.20" stroke-width="2.5"/>
<line x1="411.9" y1="122.20" x2="408.79999999999995" y2="122.20" stroke-width="2.5"/>
<line x1="46.1" y1="115.40" x2="47.9" y2="115.40" stroke-width="2.5"/>
<line x1="411.9" y1="115.40" x2="410.09999999999997" y2="115.40" stroke-width="2.5"/>
<line x1="46.1" y1="108.60" x2="47.9" y2="108.60" stroke-width="2.5"/>
<line x1="411.9" y1="108.60" x2="410.09999999999997" y2="108.60" stroke-width="2.5"/>
<line x1="46.1" y1="101.80" x2="47.9" y2="101.80" stroke-width="2.5"/>
<line x1="411.9" y1="101.80" x2="410.09999999999997" y2="101.80" stroke-width="2.5"/>
<line x1="46.1" y1="95.00" x2="47.9" y2="95.00" stroke-width="2.5"/>
<line x1="411.9" y1="95.00" x2="410.09999999999997" y2="95.00" stroke-width="2.5"/>
<line x1="46.1" y1="88.20" x2="49.2" y2="88.20" stroke-width="2.5"/>
<line x1="411.9" y1="88.20" x2="408.79999999999995" y2="88.20" stroke-width="2.5"/>
<line x1="46.1" y1="81.40" x2="47.9" y2="81.40" stroke-width="2.5"/>
<line x1="411.9" y1="81.40" x2="410.09999999999997" y2="81.40" stroke-width="2.5"/>
<line x1="46.1" y1="74.60" x2="47.9" y2="74.60" stroke-width="2.5"/>
<line x1="411.9" y1="74.60" x2="410.09999999999997" y2="74.60" stroke-width="2.5"/>
<line x1="46.1" y1="67.80" x2="47.9" y2="67.80" stroke-width="2.5"/>
<line x1="411.9" y1="67.80" x2="410.09999999999997" y2="67.80" stroke-width="2.5"/>
<line x1="46.1" y1="61.00" x2="47.9" y2="61.00" stroke-width="2.5"/>
<line x1="411.9" y1="61.00" x2="410.09999999999997" y2="61.00" stroke-width="2.5"/>
<line x1="46.1" y1="54.20" x2="49.2" y2="54.20" stroke-width="2.5"/>
<line x1="411.9" y1="54.20" x2="408.79999999999995" y2="54.20" stroke-width="2.5"/>
<line x1="46.1" y1="47.40" x2="47.9" y2="47.40" stroke-width="2.5"/>
<line x1="411.9" y1="47.40" x2="410.09999999999997" y2="47.40" stroke-width="2.5"/>
<line x1="46.1" y1="40.60" x2="47.9" y2="40.60" stroke-width="2.5"/>
<line x1="411.9" y1="40.60" x2="410.09999999999997" y2="40.60" stroke-width="2.5"/>
<line x1="46.1" y1="33.80" x2="47.9" y2="33.80" stroke-width="2.5"/>
<line x1="411.9" y1="33.80" x2="410.09999999999997" y2="33.80" stroke-width="2.5"/>
<line x1="46.1" y1="27.00" x2="47.9" y2="27.00" stroke-width="2.5"/>
<line x1="411.9" y1="27.00" x2="410.09999999999997" y2="27.00" stroke-width="2.5"/>
<line x1="46.1" y1="20.20" x2="49.2" y2="20.20" stroke-width="2.5"/>
<line x1="411.9" y1="20.20" x2="408.79999999999995" y2="20.20" stroke-width="2.5"/>
<line x1="46.1" y1="13.40" x2="47.9" y2="13.40" stroke-width="2.5"/>
<line x1="411.9" y1="13.40" x2="410.09999999999997" y2="13.40" stroke-width="2.5"/>
<line x1="46.1" y1="6.60" x2="47.9" y2="6.60" stroke-width="2.5"/>
<line x1="411.9" y1="6.60" x2="410.09999999999997" y2="6.60" stroke-width="2.5"/>
</g>
<g>
<text transform="translate(52.40,242.2) scale(1,1.13)" text-anchor="middle">0.0</text>
<text transform="translate(123.04,242.2) scale(1,1.13)" text-anchor="middle">0.2</text>
<text transform="translate(193.68,242.2) scale(1,1.13)" text-anchor="middle">0.4</text>
<text transform="translate(264.32,242.2) scale(1,1.13)" text-anchor="middle">0.6</text>
<text transform="translate(334.96,242.2) scale(1,1.13)" text-anchor="middle">0.8</text>
<text transform="translate(405.60,242.2) scale(1,1.13)" text-anchor="middle">1.0</text>
<text transform="translate(40.9,228.30) scale(1,1.13)" text-anchor="end">0.00</text>
<text transform="translate(40.9,194.30) scale(1,1.13)" text-anchor="end">0.05</text>
<text transform="translate(40.9,160.30) scale(1,1.13)" text-anchor="end">0.10</text>
<text transform="translate(40.9,126.30) scale(1,1.13)" text-anchor="end">0.15</text>
<text transform="translate(40.9,92.30) scale(1,1.13)" text-anchor="end">0.20</text>
<text transform="translate(40.9,58.30) scale(1,1.13)" text-anchor="end">0.25</text>
<text transform="translate(40.9,24.30) scale(1,1.13)" text-anchor="end">0.30</text>
</g>
<text transform="translate(13.2,115) rotate(-90)" text-anchor="middle">LT</text>
<text transform="translate(227.5,261.7) skewX(-14)" text-anchor="middle" class="xi">ξ</text>
<g fill="none">
<line x1="213.5" y1="134.5" x2="283.2" y2="134.5" stroke="#00ffff" stroke-width="2.6"/>
<line x1="215.8" y1="161.2" x2="278.5" y2="161.2" stroke="#ff00ff" stroke-width="2.6" stroke-dasharray="6.96 2.23"/>
<line x1="213.5" y1="188.4" x2="281" y2="188.4" stroke="#0000ff" stroke-width="2.6" stroke-dasharray="12.07 6.33"/>
</g>
<g class="lg" transform="translate(0,137.8) scale(1,1.06)"><text x="293.5" y="0">λ</text><text x="298.1" y="2.3" class="sub">GB</text><text x="312.4" y="0">=</text><text x="321.3" y="0">−</text><text x="326.6" y="0">0.18</text></g>
<g class="lg" transform="translate(0,166.2) scale(1,1.06)"><text x="292.7" y="0">λ</text><text x="297.3" y="2.3" class="sub">GB</text><text x="312.0" y="0">=</text><text x="321.3" y="0">−</text><text x="326.6" y="0">0.06</text></g>
<g class="lg" transform="translate(0,192.9) scale(1,1.06)"><text x="293.5" y="0">λ</text><text x="298.1" y="2.3" class="sub">GB</text><text x="312.4" y="0">=</text><text x="326.0" y="0">0.08</text></g>
</svg>
</body></html>
